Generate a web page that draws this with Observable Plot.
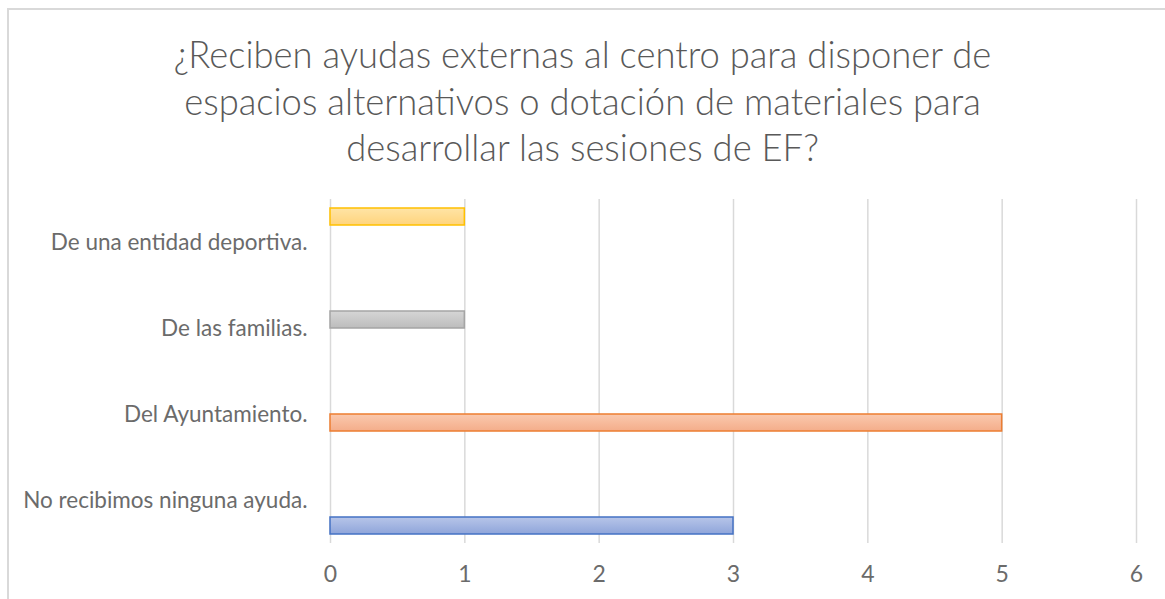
<!DOCTYPE html>
<html><head><meta charset="utf-8">
<script src="https://cdn.jsdelivr.net/npm/d3@7"></script>
<script src="https://cdn.jsdelivr.net/npm/@observablehq/plot@0.6"></script>
<style>
html,body{margin:0;padding:0;background:#fff;}
#wrap{position:relative;width:1165px;height:599px;overflow:hidden;background:#fff;}
#frame{position:absolute;left:7px;top:8px;width:1300px;height:800px;border:2px solid #d9d9d9;box-sizing:border-box;}
#title{position:absolute;left:0;top:31px;width:1165px;text-align:center;font-family:Lato,"Open Sans",sans-serif;font-weight:300;font-size:36.4px;line-height:46.5px;color:#595959;}
#chart{position:absolute;left:0;top:180px;}
</style></head><body>
<div id="wrap"><div id="frame"></div>
<div id="title">¿Reciben ayudas externas al centro para disponer de<br>espacios alternativos o dotación de materiales para<br>desarrollar las sesiones de EF?</div>
<div id="chart"></div></div>
<script>
// Categories (bottom to top as in the source) and values
const categories = ["No recibimos ninguna ayuda.", "Del Ayuntamiento.", "De las familias.", "De una entidad deportiva."];
const values = [3, 5, 1, 1];
const seriesNames = ["Serie1", "Serie2", "Serie3", "Serie4"];
const xTicks = [0, 1, 2, 3, 4, 5, 6];
const strokeColors = ["#4472C4", "#ED7D31", "#A5A5A5", "#FFC000"];
const gradTop = ["#B7C5E9", "#FAC9AE", "#D6D6D6", "#FFE4A6"];
const gradBottom = ["#8FA5DA", "#F4AD8A", "#BCBCBC", "#FFD47C"];

const data = categories.map((c, i) => ({
  category: c, series: seriesNames[i], value: values[i],
  fill: `url(#grad${i})`, stroke: strokeColors[i]
}));

const chart = Plot.plot({
  width: 1165, height: 419,
  marginTop: 18, marginBottom: 56, marginLeft: 330, marginRight: 29,
  style: {fontFamily: "Lato, 'Open Sans', sans-serif", fontSize: "22px", color: "#595959", background: "transparent"},
  x: {domain: [0, 6], axis: null},
  fy: {domain: categories.slice().reverse(), padding: 0, axis: null, label: null},
  y: {domain: seriesNames.slice().reverse(), paddingInner: 0, paddingOuter: 0.52, axis: null},
  color: {type: "identity"},
  marks: [
    Plot.gridX(xTicks, {stroke: "#d9d9d9", strokeOpacity: 1, strokeWidth: 1.5}),
    Plot.barX(data, {x: "value", y: "series", fy: "category", fill: "fill", stroke: "stroke", strokeWidth: 1.5}),
    Plot.axisX(xTicks, {tickSize: 0, tickPadding: 22, label: null, fontSize: 23, fill: "#6b6b6b", tickFormat: d => String(d)}),
    Plot.axisFy({tickSize: 0, tickPadding: 23, label: null, anchor: "left", fontSize: 22.5, fill: "#6b6b6b"})
  ]
});

const defs = d3.select(chart).insert("defs", ":first-child");
strokeColors.forEach((c, i) => {
  const g = defs.append("linearGradient").attr("id", `grad${i}`).attr("x1", 0).attr("y1", 0).attr("x2", 0).attr("y2", 1);
  g.append("stop").attr("offset", "0%").attr("stop-color", gradTop[i]);
  g.append("stop").attr("offset", "100%").attr("stop-color", gradBottom[i]);
});

document.getElementById("chart").appendChild(chart);
</script>
</body></html>
